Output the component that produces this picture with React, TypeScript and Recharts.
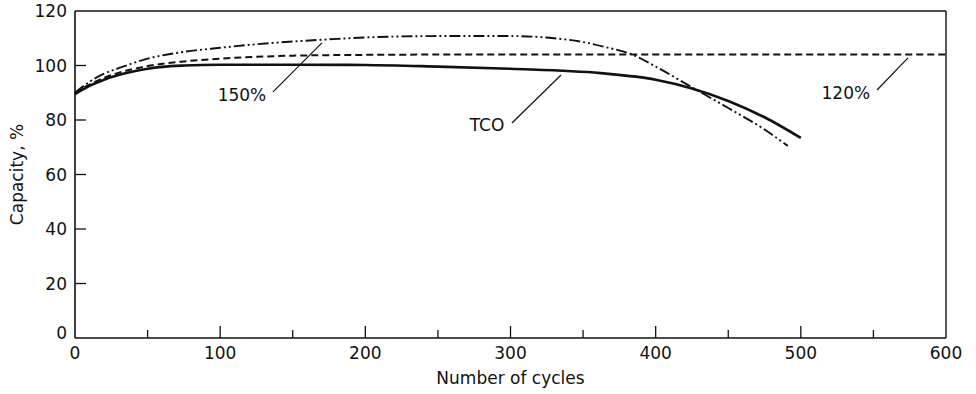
import { LineChart, Line, XAxis, YAxis, ReferenceLine, ReferenceDot } from "recharts";

const FONT = "'DejaVu Sans', Arial, Helvetica, sans-serif";
const FS = 17;
const INK = "#111";

// cycles / capacity %
const cyclesTco = [0, 10, 20, 30, 40, 50, 60, 75, 100, 150, 200, 250, 300, 362, 400, 425, 450, 475, 500];
const capTco = [89.5, 92.5, 94.8, 96.5, 97.8, 98.8, 99.5, 100, 100.3, 100.3, 100.2, 99.6, 98.8, 97.2, 94.8, 91.6, 87, 81, 73.4];

const cycles120 = [0, 10, 20, 30, 50, 75, 100, 125, 150, 200, 250, 300, 400, 500, 600];
const cap120 = [90, 93, 95.5, 97.3, 99.8, 101.5, 102.5, 103.2, 103.6, 103.9, 104, 104, 104, 104, 104];

const cycles150 = [0, 10, 20, 30, 50, 75, 100, 125, 150, 175, 200, 250, 300, 330, 350, 365, 384, 400, 425, 450, 475, 491];
const cap150 = [90, 94, 97, 99, 102.5, 105, 106.5, 107.8, 108.8, 109.6, 110.3, 110.8, 110.8, 110, 108.6, 106.8, 104, 99.6, 92, 84.4, 76.5, 70.5];

const xTicks = [0, 50, 100, 150, 200, 250, 300, 350, 400, 450, 500, 550, 600];
const yTicks = [0, 20, 40, 60, 80, 100, 120];

// curve labels and their leader lines (data coords)
const noteText = ["150%", "TCO", "120%"];
const noteAt = [[115, 89.2], [283.8, 78.2], [531, 89.9]];
const leaderFrom = [[136.4, 90.3], [301, 78.9], [552.5, 91]];
const leaderTo = [[170.1, 108.3], [334.8, 96.5], [573.8, 102.8]];

const pts = (xs: number[], ys: number[]) => xs.map((x, i) => ({ x, y: ys[i] }));

/* eslint-disable @typescript-eslint/no-explicit-any */
function XTick({ x, y, payload }: any) {
  const v = payload.value;
  const major = v % 100 === 0;
  const base = y - 9;
  return (
    <g>
      {v > 0 && v < 600 && (
        <line x1={x} x2={x} y1={base} y2={base - (major ? 12 : 8)} stroke={INK} strokeWidth={1.3} />
      )}
      {major && (
        <text x={x} y={y} dy="0.71em" textAnchor="middle" fontFamily={FONT} fontSize={FS} fill={INK}>{v}</text>
      )}
    </g>
  );
}

function YTick({ x, y, payload }: any) {
  const v = payload.value;
  const base = x + 8;
  return (
    <g>
      {v > 0 && v < 120 && <line x1={base} x2={base + 11} y1={y} y2={y} stroke={INK} strokeWidth={1.3} />}
      <text x={x} y={v === 0 ? y - 5 : y} dy="0.36em" textAnchor="end" fontFamily={FONT} fontSize={FS} fill={INK}>{v}</text>
    </g>
  );
}
/* eslint-enable @typescript-eslint/no-explicit-any */

export default function App() {
  return (
    <div style={{ position: "absolute", left: 0, top: 0, background: "#fff" }}>
      <LineChart width={976} height={394} margin={{ top: 11, right: 30, left: 0, bottom: 0 }}>
        <XAxis
          dataKey="x"
          type="number"
          domain={[0, 600]}
          ticks={xTicks}
          interval={0}
          height={56}
          tickSize={0}
          tickMargin={9}
          tickLine={false}
          tick={<XTick />}
          axisLine={{ stroke: INK, strokeWidth: 1.6 }}
          label={{ value: "Number of cycles", position: "insideBottom", offset: 10, fontFamily: FONT, fontSize: FS, fill: INK }}
        />
        <YAxis
          dataKey="y"
          type="number"
          domain={[0, 120]}
          ticks={yTicks}
          interval={0}
          width={75}
          tickSize={0}
          tickMargin={8}
          tickLine={false}
          tick={<YTick />}
          axisLine={{ stroke: INK, strokeWidth: 1.6 }}
          label={{ value: "Capacity, %", angle: -90, position: "center", dx: -21, fontFamily: FONT, fontSize: FS, fill: INK }}
        />
        <ReferenceLine y={120} stroke={INK} strokeWidth={1.4} />
        <ReferenceLine x={600} stroke={INK} strokeWidth={1.4} />

        <Line data={pts(cycles120, cap120)} dataKey="y" type="monotone" stroke={INK} strokeWidth={2} strokeDasharray="7 4" dot={false} isAnimationActive={false} />
        <Line data={pts(cycles150, cap150)} dataKey="y" type="monotone" stroke={INK} strokeWidth={1.9} strokeDasharray="11 3 2 3 2 3" dot={false} isAnimationActive={false} />
        <Line data={pts(cyclesTco, capTco)} dataKey="y" type="monotone" stroke={INK} strokeWidth={2.6} dot={false} isAnimationActive={false} />

        {noteText.map((t, i) => (
          <ReferenceLine
            key={"l" + t}
            segment={[{ x: leaderFrom[i][0], y: leaderFrom[i][1] }, { x: leaderTo[i][0], y: leaderTo[i][1] }]}
            stroke={INK}
            strokeWidth={1.2}
          />
        ))}
        {noteText.map((t, i) => (
          <ReferenceDot
            key={"t" + t}
            x={noteAt[i][0]}
            y={noteAt[i][1]}
            r={0}
            fill="none"
            stroke="none"
            label={{ value: t, position: "center", fontFamily: FONT, fontSize: FS, fill: INK }}
          />
        ))}
      </LineChart>
    </div>
  );
}
